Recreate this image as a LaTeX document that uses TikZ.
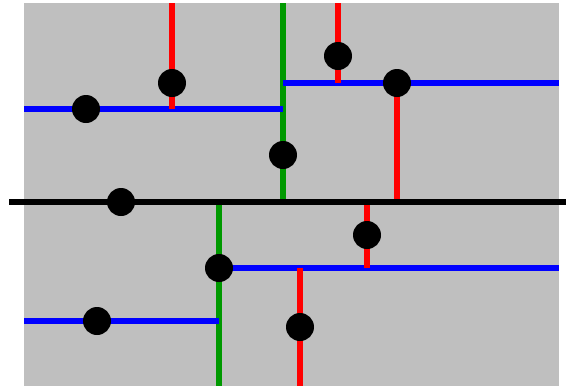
\documentclass[tikz,border=0pt]{standalone}
\usepackage{tikz}

\begin{document}
\begin{tikzpicture}[x=1pt,y=-1pt,
split/.style={line width=6pt},
pt/.style={circle,fill=black,inner sep=0pt,minimum size=28pt}]
\useasboundingbox (0,0) rectangle (566,389);
\fill[black!25] (24,3) rectangle (559,386);
% split lines
\foreach \name/\xa/\ya/\xb/\yb in {
g1/283/3/283/202, b1/24/109/283/109, r1/172/3/172/109,
b2/283/83/559/83, r2/338/3/338/83, r3/397/83/397/202,
g2/219/202/219/386, b3/24/321/219/321, b4/219/268/559/268,
r4/367/202/367/268, r5/300/268/300/386, k/9/202/566/202}
{
\coordinate (\name-a) at (\xa,\ya);
\coordinate (\name-b) at (\xb,\yb);
}
\path[split]
(g1-a) edge[green!60!black] (g1-b)
(g2-a) edge[green!60!black] (g2-b)
(b1-a) edge[blue] (b1-b)
(b2-a) edge[blue] (b2-b)
(b3-a) edge[blue] (b3-b)
(b4-a) edge[blue] (b4-b)
(r1-a) edge[red] (r1-b)
(r2-a) edge[red] (r2-b)
(r3-a) edge[red] (r3-b)
(r4-a) edge[red] (r4-b)
(r5-a) edge[red] (r5-b)
(k-a) edge[black] (k-b);
% points
\foreach \name/\x/\y in {p1/121/202, p2/283/155, p3/86/109, p4/172/83,
p5/338/56, p6/397/83, p7/219/268, p8/97/321, p9/367/235, p10/300/327}
\node[pt] (\name) at (\x,\y) {};
\end{tikzpicture}
\end{document}
